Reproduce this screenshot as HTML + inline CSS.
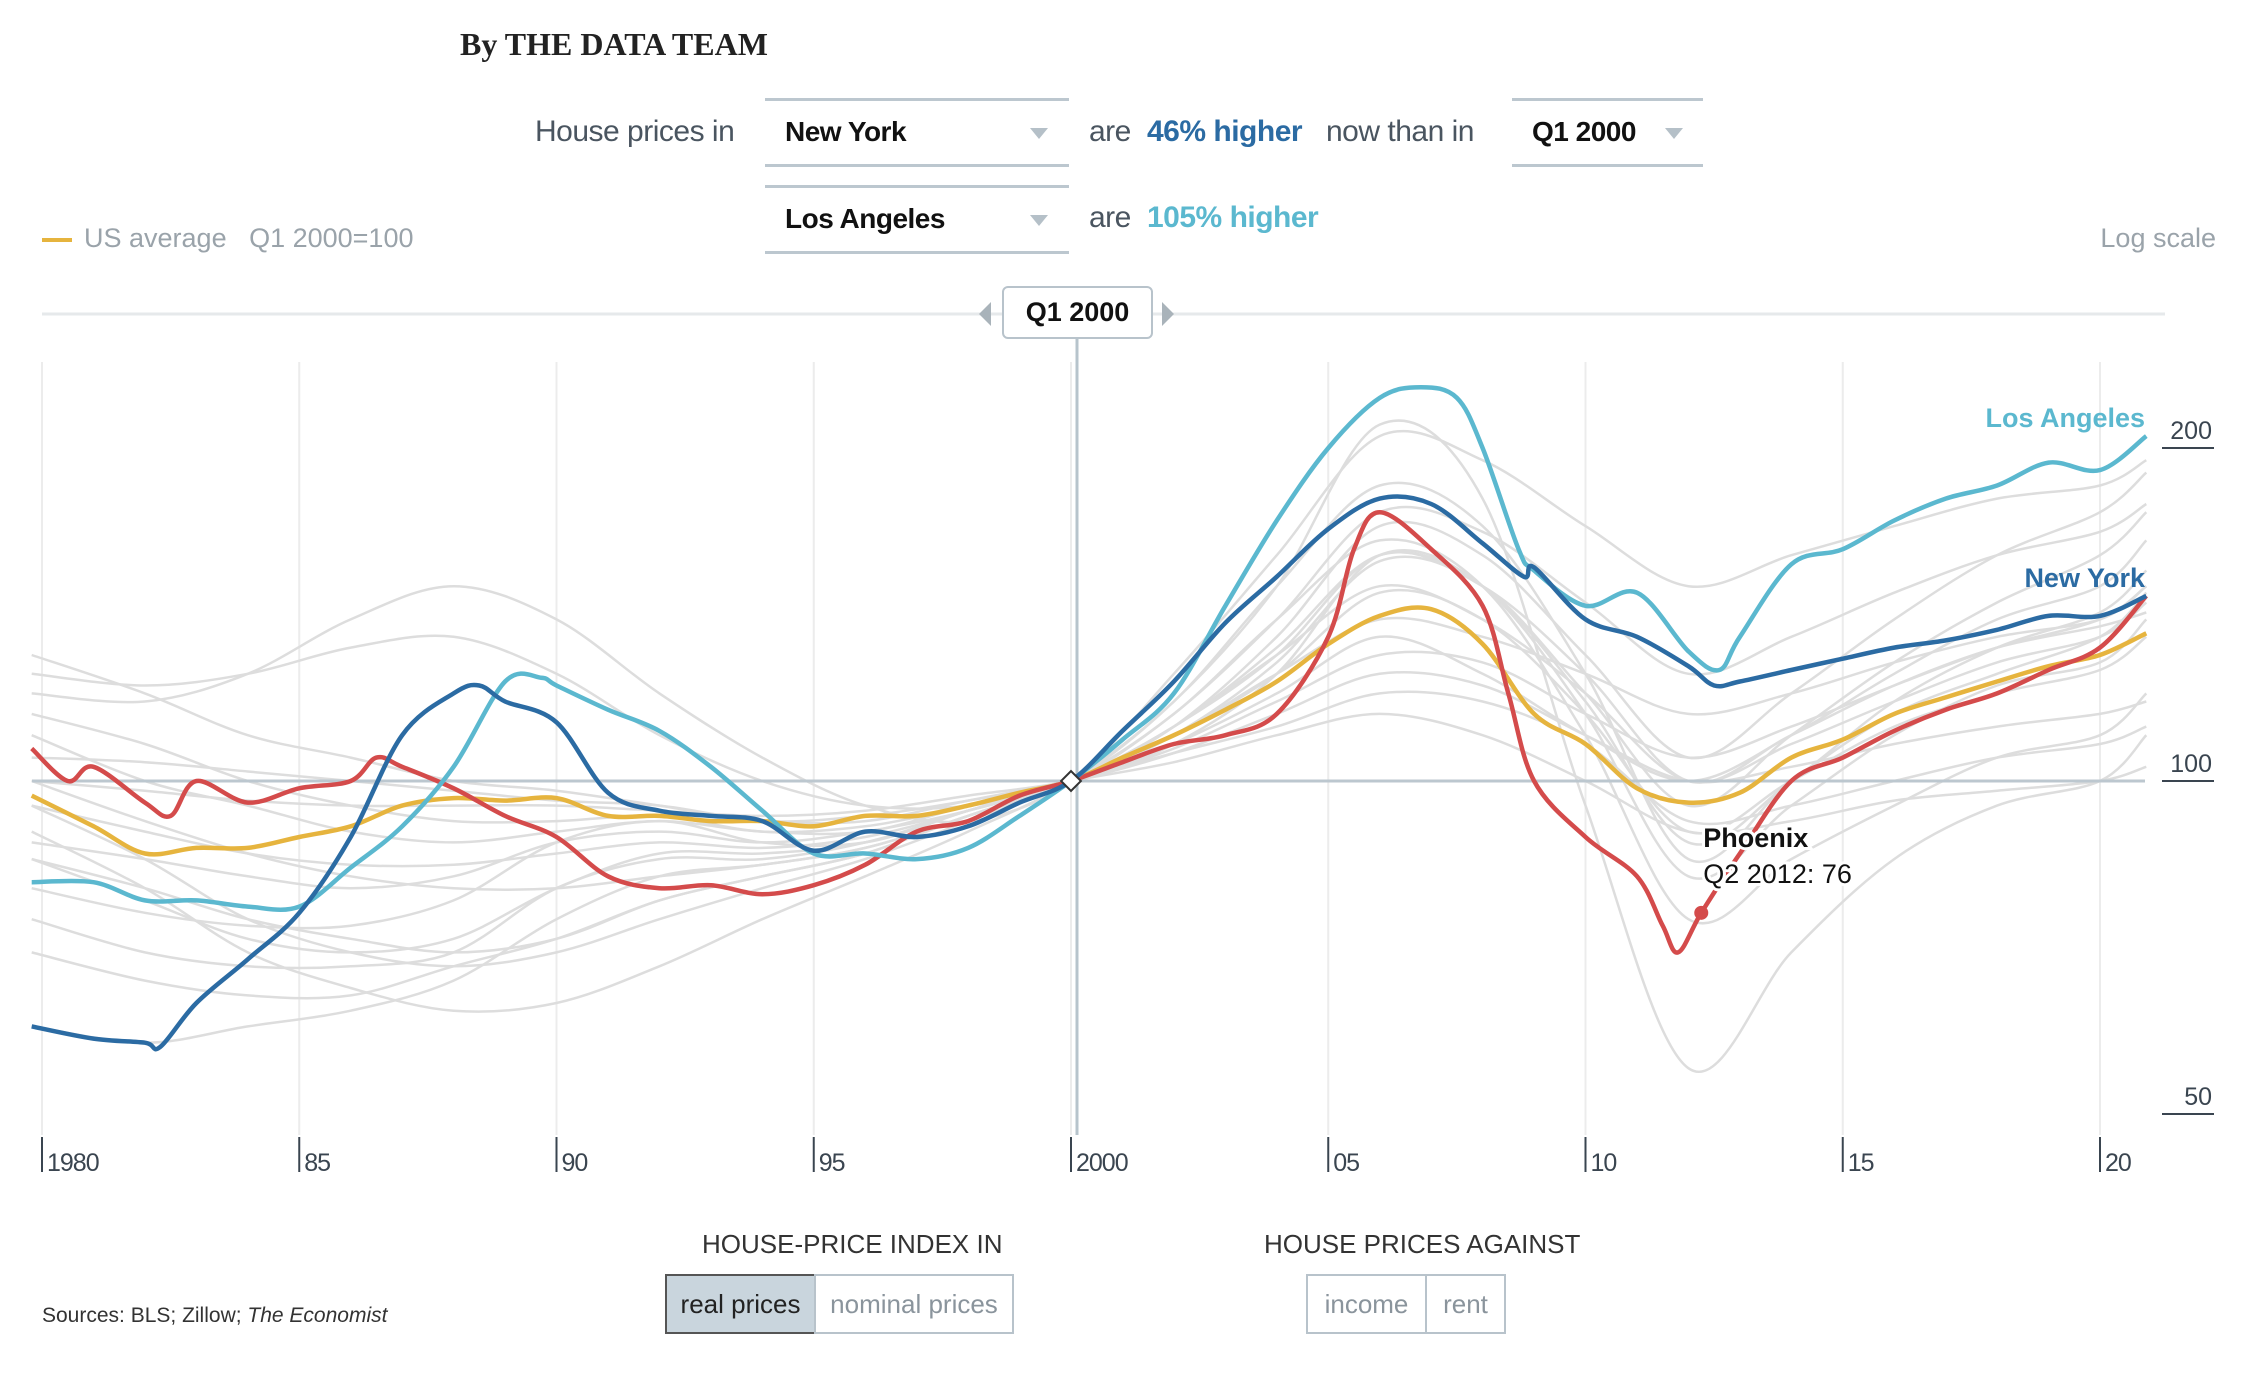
<!DOCTYPE html>
<html><head><meta charset="utf-8">
<style>
html,body{margin:0;padding:0;background:#fff;}
body{width:2242px;height:1374px;position:relative;overflow:hidden;font-family:"Liberation Sans",sans-serif;}
.abs{position:absolute;white-space:nowrap;}
.dd{position:absolute;border-top:3px solid #bcc7cf;border-bottom:3px solid #bcc7cf;}
.ddtxt{position:absolute;font-weight:bold;font-size:28px;color:#111;letter-spacing:-0.5px;}
.arrow{position:absolute;width:0;height:0;border-left:9px solid transparent;border-right:9px solid transparent;border-top:11px solid #b5c0c8;}
.t{font-size:30px;color:#4a5560;letter-spacing:-0.5px;}
.btn{position:absolute;box-sizing:border-box;border:2px solid #b8c3cb;font-size:26px;color:#8a949c;text-align:center;line-height:56px;height:60px;}
</style></head><body>
<div class="abs" style="left:460px;top:26px;font-family:'Liberation Serif',serif;font-weight:bold;font-size:32px;color:#222;">By THE DATA TEAM</div>

<div class="abs t" style="left:535px;top:115px;">House prices in</div>
<div class="dd" style="left:765px;top:98px;width:304px;height:63px;"></div>
<div class="ddtxt" style="left:785px;top:116px;">New York</div>
<div class="arrow" style="left:1030px;top:128px;"></div>
<div class="abs t" style="left:1089px;top:115px;">are</div>
<div class="abs" style="left:1147px;top:115px;font-size:30px;font-weight:bold;color:#2b6ba3;letter-spacing:-0.5px;">46% higher</div>
<div class="abs t" style="left:1326px;top:115px;">now than in</div>
<div class="dd" style="left:1512px;top:98px;width:191px;height:63px;"></div>
<div class="ddtxt" style="left:1532px;top:116px;">Q1 2000</div>
<div class="arrow" style="left:1665px;top:128px;"></div>

<div class="dd" style="left:765px;top:185px;width:304px;height:63px;"></div>
<div class="ddtxt" style="left:785px;top:203px;">Los Angeles</div>
<div class="arrow" style="left:1030px;top:215px;"></div>
<div class="abs t" style="left:1089px;top:201px;">are</div>
<div class="abs" style="left:1147px;top:201px;font-size:30px;font-weight:bold;color:#5bb8cf;letter-spacing:-0.5px;">105% higher</div>

<div class="abs" style="left:42px;top:223px;font-size:27px;color:#9aa3aa;"><span style="display:inline-block;width:30px;height:4px;background:#e6b43e;vertical-align:middle;margin-right:12px;"></span>US average&nbsp;&nbsp;&nbsp;Q1 2000=100</div>
<div class="abs" style="right:26px;top:223px;font-size:27px;color:#9aa3aa;">Log scale</div>

<svg id="chart" width="2242" height="1374" style="position:absolute;left:0;top:0;" xmlns="http://www.w3.org/2000/svg"></svg>

<div class="abs" style="left:1002px;top:286px;width:151px;height:53px;box-sizing:border-box;border:2px solid #b8c3cb;border-radius:6px;background:#fff;font-weight:bold;font-size:27px;color:#111;text-align:center;line-height:49px;">Q1 2000</div>
<div class="abs" style="left:979px;top:302px;width:0;height:0;border-top:12px solid transparent;border-bottom:12px solid transparent;border-right:12px solid #a9b3ba;"></div>
<div class="abs" style="left:1162px;top:302px;width:0;height:0;border-top:12px solid transparent;border-bottom:12px solid transparent;border-left:12px solid #a9b3ba;"></div>

<div class="abs" style="left:702px;top:1229px;font-size:26px;color:#333;">HOUSE-PRICE INDEX IN</div>
<div class="btn" style="left:665px;top:1274px;width:151px;background:#c9d5dd;color:#222;border-color:#555;">real prices</div>
<div class="btn" style="left:814px;top:1274px;width:200px;">nominal prices</div>
<div class="abs" style="left:1264px;top:1229px;font-size:26px;color:#333;">HOUSE PRICES AGAINST</div>
<div class="btn" style="left:1306px;top:1274px;width:121px;">income</div>
<div class="btn" style="left:1425px;top:1274px;width:81px;">rent</div>
<div class="abs" style="left:42px;top:1304px;font-size:21px;color:#333;">Sources: BLS; Zillow; <i>The Economist</i></div>

<script>
const xTickYears=[1980,1985,1990,1995,2000,2005,2010,2015,2020];
const xTickLabels=["1980","85","90","95","2000","05","10","15","20"];
const yTicks=[50,100,200];

const nyYears=[1979.8,1981,1982,1982.3,1983,1984,1985,1986,1987,1988,1988.5,1989,1990,1991,1992,1993,1994,1995,1996,1997,1998,1999,2000,2001,2002,2003,2004,2005,2006,2007,2008,2008.8,2009,2010,2011,2012,2012.5,2013,2014,2015,2016,2017,2018,2019,2020,2020.9];
const nyValues=[60,58.5,58,57.5,63,69,76,89,110,120,122,118,113,97.6,94,93,92,86.5,90,89,91,95.6,100,111,123,139,153,169,180,178,164,153,156,140,135,127,122,123,126,129,132,134,137,141,141,147];

const laYears=[1979.8,1981,1982,1983,1984,1985,1986,1987,1988,1989,1989.7,1990,1991,1992,1993,1994,1995,1996,1997,1998,1999,2000,2001,2002,2003,2004,2005,2006,2006.8,2007.5,2008,2008.7,2009,2010,2011,2012,2012.6,2013,2014,2015,2016,2017,2018,2019,2020,2020.9];
const laValues=[81,81,78,78,77,77,83.5,91,103,123,124,122,116,111,103,94,86,86,85,87,93,100,109,120,144,172,200,222,227,222,200,162,155,144,148,131,126,135,157,162,172,180,185,194,191,205];

const phxYears=[1979.8,1980.5,1981,1982,1982.5,1983,1984,1985,1986,1986.5,1987,1988,1989,1990,1991,1992,1993,1994,1995,1996,1997,1998,1999,2000,2001,2002,2003,2004,2005,2005.5,2006,2007,2008,2008.5,2009,2010,2011,2011.5,2011.8,2012.25,2013,2014,2015,2016,2017,2018,2019,2020,2020.9];
const phxValues=[107,100,103,95.6,93,100,95.6,98.5,100,105,103,98.5,93,89,82,80,80.5,79,80.5,84,90,92,97,100,104,108,110,115,135,162,175,162,144,120,100,89,82,74,70,76,86,100,105,111,116,120,126,132,147];

const usYears=[1979.8,1981,1982,1983,1984,1985,1986,1987,1988,1989,1990,1991,1992,1993,1994,1995,1996,1997,1998,1999,2000,2001,2002,2003,2004,2005,2006,2007,2008,2009,2010,2011,2012,2013,2014,2015,2016,2017,2018,2019,2020,2020.9];
const usValues=[97,91,86,87,87,89,91,95,96.5,96,96.5,93,93,92,92,91,93,93,95,97.6,100,105,110,116,123,133,141,143,133,115,108,98.5,95.6,97.6,105,109,115,119,123,127,130,136];

const greyYears=[1979.8,1982,1984,1986,1988,1990,1992,1994,1996,1998,2000,2002,2004,2006,2008,2010,2012,2014,2016,2018,2020,2020.9];
const grey1=[120,118,125,140,150,140,120,105,95,92,100,125,160,205,195,170,150,160,170,180,185,195];
const grey2=[90,80,70,65,62,63,68,75,82,90,100,118,150,210,180,95,55,70,85,95,100,110];
const grey3=[95,85,75,70,68,70,75,80,85,92,100,115,140,165,150,110,75,85,95,105,110,120];
const grey4=[85,80,75,72,70,72,78,82,86,93,100,112,130,150,140,120,100,108,118,128,135,145];
const grey5=[110,100,95,90,88,90,92,90,90,95,100,108,120,135,125,110,100,110,125,140,150,165];
const grey6=[75,70,68,68,70,80,85,85,88,94,100,110,128,158,150,120,95,110,128,145,160,175];
const grey7=[100,98,96,95,95,95,94,93,94,97,100,106,115,125,122,110,100,103,108,112,115,118];
const grey8=[70,66,64,64,68,72,78,82,86,93,100,112,135,170,160,130,105,120,140,160,175,190];
const grey9=[105,104,102,100,98,96,95,92,92,96,100,104,110,115,110,100,90,92,96,98,100,103];
const grey10=[130,120,110,105,100,98,95,92,93,96,100,108,125,160,150,115,82,95,110,122,128,140];
const grey11=[88,85,82,80,82,88,90,88,90,94,100,110,125,140,135,125,115,120,128,135,140,150];
const grey12=[60,58,60,62,66,75,82,84,87,93,100,118,150,185,170,125,85,100,115,125,135,148];
const grey13=[115,108,100,95,92,92,93,90,91,95,100,107,118,130,128,115,105,112,122,132,140,150];
const grey14=[80,76,74,74,78,88,92,88,88,94,100,112,132,160,150,118,88,100,118,132,142,155];
const grey15=[95,90,86,84,84,86,88,87,89,94,100,110,125,148,140,115,90,100,112,120,126,135];
const grey16=[125,122,125,132,135,125,110,100,95,95,100,115,140,175,168,145,125,135,148,160,168,178];
const grey17=[100,92,86,82,80,80,82,84,87,93,100,112,130,160,150,125,100,110,122,132,138,142];
const grey18=[85,78,72,70,72,80,86,86,88,94,100,106,112,120,118,108,92,95,100,105,108,112];
const greySeries=[grey1,grey2,grey3,grey4,grey5,grey6,grey7,grey8,grey9,grey10,grey11,grey12,grey13,grey14,grey15,grey16,grey17,grey18];

const NS="http://www.w3.org/2000/svg";
const svg=document.getElementById('chart');
function xScale(yr){return 42+(yr-1980)*51.45;}
function yScale(v){return 781-333*Math.log2(v/100);}
function mk(tag,attrs){const e=document.createElementNS(NS,tag);for(const k in attrs)e.setAttribute(k,attrs[k]);svg.appendChild(e);return e;}

const slider=mk('line',{x1:42,x2:2165,y1:314,y2:314,stroke:'#e6e9eb','stroke-width':3});



xTickYears.forEach((yr,i)=>{
  const x=xScale(yr);
  const g=mk('line',{x1:x,x2:x,y1:362,y2:1135,stroke:'#ececec','stroke-width':2});
  
  
  const t=mk('line',{x1:x,x2:x,y1:1137,y2:1172,stroke:'#3a4550','stroke-width':2});
  
  
  const l=mk('text',{x:x+5,y:1171,'font-size':25,fill:'#3a4550','font-family':'Liberation Sans, sans-serif','letter-spacing':'-1'});
  l.textContent=xTickLabels[i];
  
  
});

yTicks.forEach(v=>{
  const y=yScale(v);
  const u=mk('line',{x1:2162,x2:2214,y1:y,y2:y,stroke:'#3a4550','stroke-width':2});
  
  
  const t=mk('text',{x:2212,y:y-9,'font-size':25,fill:'#3a4550','text-anchor':'end','font-family':'Liberation Sans, sans-serif'});
  t.textContent=String(v);
  
  
});

function path(years,vals){
  const p=years.map((yr,i)=>[xScale(yr),yScale(vals[i])]);
  let d='M'+p[0][0].toFixed(1)+','+p[0][1].toFixed(1);
  for(let i=0;i<p.length-1;i++){
    const p0=p[Math.max(0,i-1)],p1=p[i],p2=p[i+1],p3=p[Math.min(p.length-1,i+2)];
    const c1x=p1[0]+(p2[0]-p0[0])/6,c1y=p1[1]+(p2[1]-p0[1])/6;
    const c2x=p2[0]-(p3[0]-p1[0])/6,c2y=p2[1]-(p3[1]-p1[1])/6;
    d+=' C'+c1x.toFixed(1)+','+c1y.toFixed(1)+' '+c2x.toFixed(1)+','+c2y.toFixed(1)+' '+p2[0].toFixed(1)+','+p2[1].toFixed(1);
  }
  return d;
}

greySeries.forEach(s=>{
  const p=mk('path',{d:path(greyYears,s),fill:'none',stroke:'#dddddd','stroke-width':2.5,'stroke-linejoin':'round'});
  
  
});

const base=mk('line',{x1:32,x2:2145,y1:yScale(100),y2:yScale(100),stroke:'#bcc7cf','stroke-width':3});



const vl=mk('line',{x1:1077,x2:1077,y1:339,y2:1135,stroke:'#b7c4cc','stroke-width':3});



const us=mk('path',{d:path(usYears,usValues),fill:'none',stroke:'#e6b43e','stroke-width':4.5,'stroke-linejoin':'round'});


const phx=mk('path',{d:path(phxYears,phxValues),fill:'none',stroke:'#d44b4b','stroke-width':4.5,'stroke-linejoin':'round'});


const la=mk('path',{d:path(laYears,laValues),fill:'none',stroke:'#5bb8cf','stroke-width':4.5,'stroke-linejoin':'round'});


const ny=mk('path',{d:path(nyYears,nyValues),fill:'none',stroke:'#2b6ba3','stroke-width':4.5,'stroke-linejoin':'round'});



const dx=xScale(2000),dy=yScale(100);
const dm=mk('rect',{x:dx-7,y:dy-7,width:14,height:14,fill:'#fff',stroke:'#333','stroke-width':2,transform:`rotate(45 ${dx} ${dy})`});



const hlYear=2012.25,hlVal=76;
const dot=mk('circle',{cx:xScale(hlYear),cy:yScale(hlVal),r:7,fill:'#d44b4b'});


const tl1=mk('text',{x:xScale(hlYear)+2,y:yScale(hlVal)-66,'font-size':27,'font-weight':'bold',fill:'#111',stroke:'#fff','stroke-width':6,'paint-order':'stroke','font-family':'Liberation Sans, sans-serif'});
tl1.textContent='Phoenix';


const tl2=mk('text',{x:xScale(hlYear)+2,y:yScale(hlVal)-30,'font-size':27,fill:'#111',stroke:'#fff','stroke-width':6,'paint-order':'stroke','font-family':'Liberation Sans, sans-serif'});
tl2.textContent='Q2 2012: '+hlVal;



const laL=mk('text',{x:2145,y:427,'font-size':27,'font-weight':'bold',fill:'#5bb8cf','text-anchor':'end','font-family':'Liberation Sans, sans-serif'});
laL.textContent='Los Angeles';


const nyL=mk('text',{x:2145,y:587,'font-size':27,'font-weight':'bold',fill:'#2b6ba3','text-anchor':'end','font-family':'Liberation Sans, sans-serif'});
nyL.textContent='New York';


</script>
</body></html>
